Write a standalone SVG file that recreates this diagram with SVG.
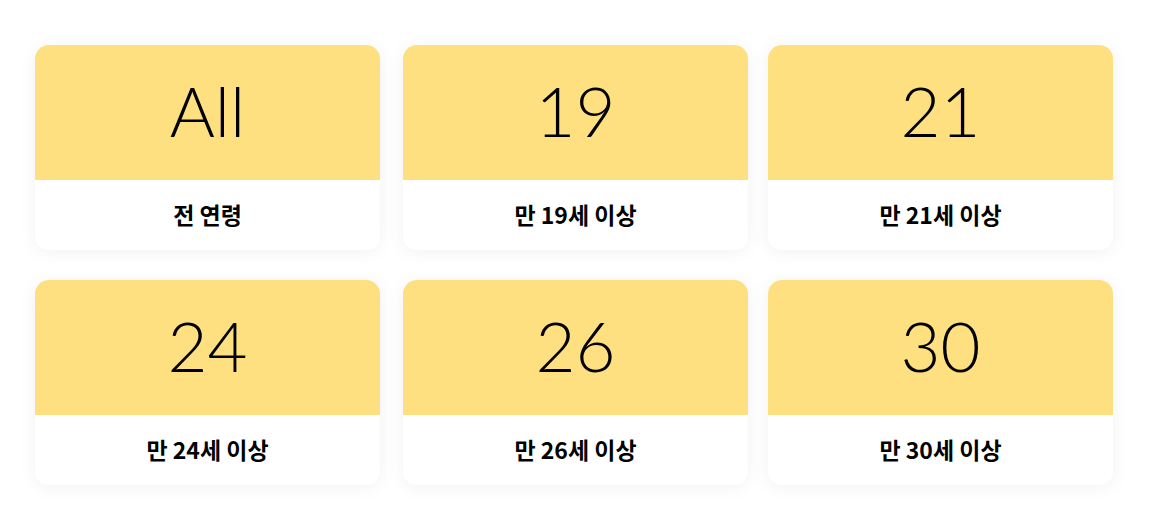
<svg xmlns="http://www.w3.org/2000/svg" width="1168" height="530" viewBox="0 0 1168 530">
<defs>
<filter id="sh" x="-10%" y="-15%" width="120%" height="135%">
<feDropShadow dx="0" dy="2" stdDeviation="8" flood-color="#000" flood-opacity="0.05"/>
</filter>
<clipPath id="c"><rect x="0" y="0" width="345" height="205" rx="14"/></clipPath>
</defs>
<style>
.big{font-family:Lato,"Liberation Sans",sans-serif;font-weight:300;font-size:69px;fill:#000;text-anchor:middle}
.lab{font-family:"Noto Sans CJK KR","Noto Sans",sans-serif;font-weight:700;font-size:23px;fill:#000;text-anchor:middle}
.card{fill:#fff}
.top{fill:#FFE080}
</style>
<rect width="1168" height="530" fill="#fff"/>
<g id="card-all" transform="translate(35,45)">
<rect class="card" width="345" height="205" rx="14" filter="url(#sh)"/>
<g clip-path="url(#c)"><rect class="top" width="345" height="135"/></g>
<text class="big" x="172.5" y="92">All</text>
<text class="lab" x="172.5" y="179">전 연령</text>
</g>
<g id="card-19" transform="translate(403,45)">
<rect class="card" width="345" height="205" rx="14" filter="url(#sh)"/>
<g clip-path="url(#c)"><rect class="top" width="345" height="135"/></g>
<text class="big" x="172.5" y="92">19</text>
<text class="lab" x="172.5" y="179">만 19세 이상</text>
</g>
<g id="card-21" transform="translate(768,45)">
<rect class="card" width="345" height="205" rx="14" filter="url(#sh)"/>
<g clip-path="url(#c)"><rect class="top" width="345" height="135"/></g>
<text class="big" x="172.5" y="92">21</text>
<text class="lab" x="172.5" y="179">만 21세 이상</text>
</g>
<g id="card-24" transform="translate(35,280)">
<rect class="card" width="345" height="205" rx="14" filter="url(#sh)"/>
<g clip-path="url(#c)"><rect class="top" width="345" height="135"/></g>
<text class="big" x="172.5" y="92">24</text>
<text class="lab" x="172.5" y="179">만 24세 이상</text>
</g>
<g id="card-26" transform="translate(403,280)">
<rect class="card" width="345" height="205" rx="14" filter="url(#sh)"/>
<g clip-path="url(#c)"><rect class="top" width="345" height="135"/></g>
<text class="big" x="172.5" y="92">26</text>
<text class="lab" x="172.5" y="179">만 26세 이상</text>
</g>
<g id="card-30" transform="translate(768,280)">
<rect class="card" width="345" height="205" rx="14" filter="url(#sh)"/>
<g clip-path="url(#c)"><rect class="top" width="345" height="135"/></g>
<text class="big" x="172.5" y="92">30</text>
<text class="lab" x="172.5" y="179">만 30세 이상</text>
</g>
<g id="connectors"/>
</svg>
